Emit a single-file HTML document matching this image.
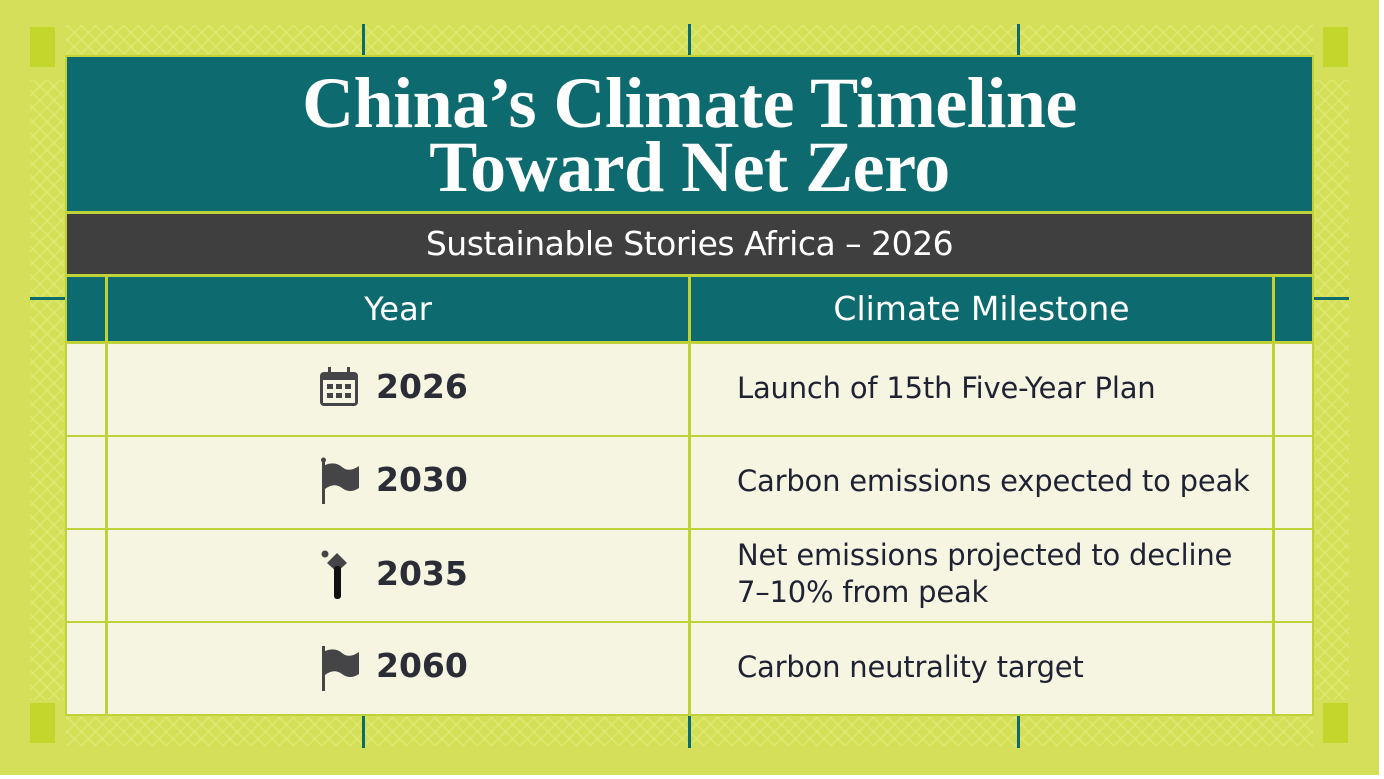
<!DOCTYPE html>
<html><head><meta charset="utf-8"><style>
*{margin:0;padding:0;box-sizing:border-box}
body{width:1384px;height:779px;background:#fff;position:relative;overflow:hidden;font-family:"DejaVu Sans","Liberation Sans",sans-serif}
.bg{position:absolute;left:0;top:0;width:1379px;height:775px;background:#d5df5a}
.a{position:absolute}
.pat{position:absolute;background-color:#d3df55;background-image:repeating-linear-gradient(45deg,rgba(230,236,130,.5) 0 2px,transparent 2px 10px),repeating-linear-gradient(-45deg,rgba(230,236,130,.5) 0 2px,transparent 2px 10px)}
.tick{position:absolute;background:#0d6b6b}
.cell{position:absolute;background:#f6f5e2}
.line{position:absolute;background:#bfd23a}
.yr{position:absolute;left:376px;font-size:33px;font-weight:bold;color:#2a2d36}
.ms{position:absolute;left:737px;font-size:29px;color:#1e2233;line-height:37px;letter-spacing:-0.2px}
</style></head><body>
<div class="bg"></div>
<div class="pat" style="left:66px;top:25px;width:1247px;height:29px"></div>
<div class="pat" style="left:66px;top:717px;width:1247px;height:29px"></div>
<div class="pat" style="left:30px;top:80px;width:34px;height:620px"></div>
<div class="pat" style="left:1315px;top:80px;width:34px;height:620px"></div>
<div class="a" style="left:30px;top:27px;width:25px;height:40px;background:#c2d62c"></div>
<div class="a" style="left:1323px;top:27px;width:25px;height:40px;background:#c2d62c"></div>
<div class="a" style="left:30px;top:703px;width:25px;height:40px;background:#c2d62c"></div>
<div class="a" style="left:1323px;top:703px;width:25px;height:40px;background:#c2d62c"></div>
<div class="tick" style="left:362px;top:24px;width:3px;height:32px"></div>
<div class="tick" style="left:688px;top:24px;width:3px;height:32px"></div>
<div class="tick" style="left:1017px;top:24px;width:3px;height:32px"></div>
<div class="tick" style="left:362px;top:716px;width:3px;height:32px"></div>
<div class="tick" style="left:688px;top:716px;width:3px;height:32px"></div>
<div class="tick" style="left:1017px;top:716px;width:3px;height:32px"></div>
<div class="tick" style="left:30px;top:297px;width:36px;height:3px"></div>
<div class="tick" style="left:1313px;top:297px;width:36px;height:3px"></div>
<div class="a" style="left:65px;top:55px;width:1249px;height:661px;background:#bfd23a"></div>
<div class="a" style="left:67px;top:57px;width:1245px;height:154px;background:#0d6b6f"></div>
<div class="a" style="left:67px;top:71px;width:1245px;text-align:center;color:#fff;font-family:'Liberation Serif',serif;font-weight:bold;font-size:72px;line-height:64px;letter-spacing:-0.5px">China’s Climate Timeline<br>Toward Net Zero</div>
<div class="a" style="left:67px;top:214px;width:1245px;height:60px;background:#3f3f40;color:#fff;font-size:33px;text-align:center;line-height:60px;letter-spacing:-0.5px">Sustainable Stories Africa – 2026</div>
<div class="a" style="left:67px;top:277px;width:38px;height:64px;background:#0d6b6f"></div>
<div class="a" style="left:108px;top:277px;width:580px;height:64px;background:#0d6b6f;color:#fff;font-size:32px;text-align:center;line-height:64px">Year</div>
<div class="a" style="left:691px;top:277px;width:581px;height:64px;background:#0d6b6f;color:#fff;font-size:33px;text-align:center;line-height:64px">Climate Milestone</div>
<div class="a" style="left:1275px;top:277px;width:37px;height:64px;background:#0d6b6f"></div>
<div class="cell" style="left:67px;top:344px;width:1245px;height:91px"></div>
<div class="cell" style="left:67px;top:437px;width:1245px;height:91px"></div>
<div class="cell" style="left:67px;top:530px;width:1245px;height:91px"></div>
<div class="cell" style="left:67px;top:623px;width:1245px;height:91px"></div>
<div class="line" style="left:105px;top:277px;width:3px;height:438px"></div>
<div class="line" style="left:688px;top:277px;width:3px;height:438px"></div>
<div class="line" style="left:1272px;top:277px;width:3px;height:438px"></div>
<svg class="a" style="left:318px;top:366px" width="42" height="44"><rect x="2" y="6" width="38" height="34" rx="4" fill="#454547"/><rect x="5" y="14" width="32" height="23" fill="#f6f5e2"/><g fill="#454547"><rect x="9" y="18" width="6" height="5"/><rect x="18" y="18" width="6" height="5"/><rect x="27" y="18" width="6" height="5"/><rect x="9" y="27" width="6" height="5"/><rect x="18" y="27" width="6" height="5"/><rect x="27" y="27" width="6" height="5"/></g><rect x="10" y="1" width="3" height="9" fill="#454547"/><rect x="29" y="1" width="3" height="9" fill="#454547"/></svg>
<svg class="a" style="left:320px;top:457px" width="42" height="50"><rect x="2" y="2" width="3" height="45" fill="#454547"/><circle cx="3.5" cy="3" r="2.5" fill="#454547"/><path d="M5 8 Q15 4 22 10 T39 9 V31 Q30 37 22 31 T5 32Z" fill="#454547"/></svg>
<svg class="a" style="left:320px;top:550px" width="34" height="52"><circle cx="5" cy="4" r="3.5" fill="#454547"/><path d="M17 3 L27 13 L17 22 L7 13Z" fill="#454547"/><rect x="14" y="16" width="7" height="33" rx="3" fill="#111"/></svg>
<svg class="a" style="left:320px;top:646px" width="42" height="50"><rect x="2" y="0" width="3" height="45" fill="#454547"/><path d="M5 5 Q15 1 22 7 T39 6 V28 Q30 34 22 28 T5 29Z" fill="#454547"/></svg>
<div class="yr" style="top:367px">2026</div>
<div class="yr" style="top:460px">2030</div>
<div class="yr" style="top:554px">2035</div>
<div class="yr" style="top:646px">2060</div>
<div class="ms" style="top:370px">Launch of 15th Five-Year Plan</div>
<div class="ms" style="top:463px">Carbon emissions expected to peak</div>
<div class="ms" style="top:537px">Net emissions projected to decline<br>7–10% from peak</div>
<div class="ms" style="top:649px">Carbon neutrality target</div>
</body></html>
